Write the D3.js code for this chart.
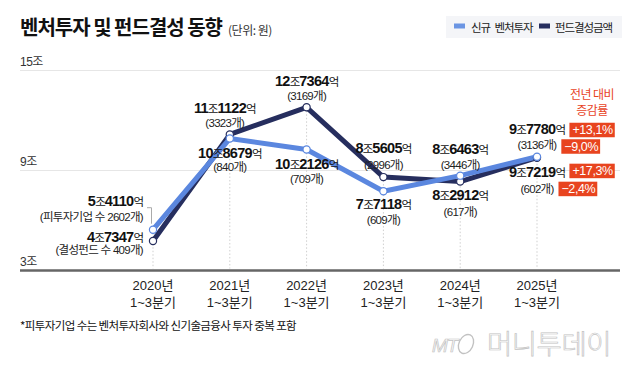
<!DOCTYPE html>
<html><head><meta charset="utf-8">
<script src="https://cdn.jsdelivr.net/npm/d3@7"></script>
<style>
html,body{margin:0;padding:0;background:#fff;}
svg{display:block;}
</style></head>
<body>
<svg id="chart" width="640" height="368"></svg>
<script>
// ---- data (values in 억원) ----
const categories = ["2020년", "2021년", "2022년", "2023년", "2024년", "2025년"];
const periodLabel = "1~3분기";
const ventureInvest = [54110, 108679, 102126, 77118, 86463, 97780];   // 신규 벤처투자
const fundRaised    = [47347, 111122, 127364, 85605, 82912, 97219];   // 펀드결성금액
const ventureCounts = ["피투자기업 수 2602개", "840개", "709개", "609개", "3446개", "3136개"];
const fundCounts    = ["결성펀드 수 409개", "3323개", "3169개", "2996개", "617개", "602개"];
const yTicks = [30000, 90000, 150000];
const yTickLabels = ["3조", "9조", "15조"];
const ventureChange = ["+13,1%", "−9,0%"];
const fundChange = ["+17,3%", "−2,4%"];
const seriesNames = ["신규 벤처투자", "펀드결성금액"];
const changeHeader = ["전년 대비", "증감률"];

// ---- layout / style ----
const FONT = "'Liberation Sans', 'Noto Sans CJK KR', sans-serif";
const KFONT = "'Noto Sans CJK KR', sans-serif";
const C_BLUE = "#5b87df", C_NAVY = "#262e5e", C_RED = "#e8441f";
const svg = d3.select("#chart");

const x = d3.scalePoint().domain(categories).range([153, 537]);
const y = d3.scaleLinear().domain([30000, 150000]).range([270, 69.5]);

// title
const title = svg.append("text").attr("x", 20).attr("y", 35)
  .attr("font-family", KFONT).attr("fill", "#111");
title.append("tspan").attr("font-size", 20).attr("font-weight", 700)
  .attr("letter-spacing", -1).text("벤처투자 및 펀드결성 동향");
title.append("tspan").attr("font-size", 12).attr("dx", 6).attr("fill", "#333")
  .attr("letter-spacing", -0.5).text("(단위: 원)");

// legend
svg.append("rect").attr("x", 446).attr("y", 16).attr("width", 176).attr("height", 22).attr("fill", "#f4f5f8");
const legendItems = [
  {name: seriesNames[0], color: "#6b95e3", sx: 454, tx: 471},
  {name: seriesNames[1], color: C_NAVY, sx: 539, tx: 555}
];
legendItems.forEach(d => {
  svg.append("rect").attr("x", d.sx).attr("y", 23.5).attr("width", 11).attr("height", 5).attr("fill", d.color);
  svg.append("text").attr("x", d.tx).attr("y", 32).attr("font-family", KFONT)
    .attr("font-size", 11.5).attr("letter-spacing", -1.1).attr("word-spacing", 3)
    .attr("fill", "#222").text(d.name);
});

// gridlines + y labels
yTicks.forEach((t, i) => {
  const yy = Math.round(y(t)) + 0.5;
  svg.append("line").attr("x1", 20).attr("x2", 620).attr("y1", yy).attr("y2", yy)
    .attr("stroke", i === 0 ? "#666" : "#e6e6e6").attr("stroke-width", i === 0 ? 2.5 : 1);
  svg.append("text").attr("x", 20).attr("y", yy - 5).attr("font-family", FONT)
    .attr("font-size", 12).attr("letter-spacing", -0.5).attr("fill", "#333").text(yTickLabels[i]);
});

// vertical dotted guides
categories.forEach((c, i) => {
  const top = Math.min(y(ventureInvest[i]), y(fundRaised[i]));
  svg.append("line").attr("x1", x(c)).attr("x2", x(c)).attr("y1", top).attr("y2", y(30000) - 1.5)
    .attr("stroke", "#cfcfcf").attr("stroke-width", 1).attr("stroke-dasharray", "1.5,2");
});

// x labels
categories.forEach(c => {
  const t = svg.append("text").attr("text-anchor", "middle").attr("font-family", FONT)
    .attr("font-size", 13).attr("fill", "#222");
  t.append("tspan").attr("x", x(c)).attr("y", 290).text(c);
  t.append("tspan").attr("x", x(c)).attr("y", 307).text(periodLabel);
});

// lines
const line = d3.line().x((d, i) => x(categories[i])).y(d => y(d));
[[fundRaised, C_NAVY], [ventureInvest, C_BLUE]].forEach(([vals, col]) => {
  svg.append("path").attr("d", line(vals)).attr("fill", "none").attr("stroke", col)
    .attr("stroke-width", 5).attr("stroke-linejoin", "round");
});
[[fundRaised, C_NAVY], [ventureInvest, C_BLUE]].forEach(([vals, col]) => {
  svg.selectAll(null).data(vals).enter().append("circle")
    .attr("cx", (d, i) => x(categories[i])).attr("cy", d => y(d)).attr("r", 3.6)
    .attr("fill", "#fff").attr("stroke", col).attr("stroke-width", 1.2);
});

// value labels
function fmt(v) {
  const jo = Math.floor(v / 10000), eok = v % 10000;
  return [String(jo), String(eok).padStart(4, "0")];
}
const ventureLayout = [
  {a: "end", dx: -10, dy1: -24, dy2: -9},
  {a: "middle", dx: 0, dy1: 19, dy2: 32},
  {a: "middle", dx: 0, dy1: 20, dy2: 34},
  {a: "middle", dx: 0, dy1: 18, dy2: 33},
  {a: "middle", dx: 0, dy1: -22, dy2: -7},
  {a: "middle", dx: 0, dy1: -23, dy2: -8}
];
const fundLayout = [
  {a: "end", dx: -10, dy1: 1, dy2: 13},
  {a: "middle", dx: -5, dy1: -21, dy2: -7},
  {a: "middle", dx: 0, dy1: -21, dy2: -7},
  {a: "middle", dx: 0, dy1: -24, dy2: -8},
  {a: "middle", dx: 0, dy1: 18, dy2: 34},
  {a: "middle", dx: 0, dy1: 19, dy2: 35}
];
const labelNodes = {venture: [], fund: []};
function drawLabels(vals, counts, layout, key) {
  vals.forEach((v, i) => {
    const L = layout[i];
    const px = x(categories[i]) + L.dx, py = y(v);
    const [jo, eok] = fmt(v);
    const t = svg.append("text").attr("x", px).attr("y", py + L.dy1).attr("text-anchor", L.a)
      .attr("font-family", FONT).attr("fill", "#111");
    t.append("tspan").attr("font-size", 14.5).attr("font-weight", 700).attr("letter-spacing", -0.7).text(jo);
    t.append("tspan").attr("font-family", KFONT).attr("font-size", 11.5).attr("letter-spacing", -1).text("조");
    t.append("tspan").attr("font-size", 14.5).attr("font-weight", 700).attr("letter-spacing", -0.7).text(eok);
    t.append("tspan").attr("font-family", KFONT).attr("font-size", 11.5).attr("letter-spacing", -1).text("억");
    const c = svg.append("text").attr("x", px).attr("y", py + L.dy2).attr("text-anchor", L.a)
      .attr("font-family", FONT).attr("font-size", 11.5).attr("letter-spacing", -0.7)
      .attr("fill", "#222").text("(" + counts[i] + ")");
    labelNodes[key].push([t, c]);
  });
}
drawLabels(ventureInvest, ventureCounts, ventureLayout, "venture");
drawLabels(fundRaised, fundCounts, fundLayout, "fund");

// bracket beside 2020 venture label
{
  const bx = x(categories[0]), by = y(ventureInvest[0]);
  svg.append("path").attr("d", `M${bx - 6},${by - 22}H${bx - 1.5}V${by - 6}`)
    .attr("fill", "none").attr("stroke", "#aaa").attr("stroke-width", 1);
}

// change boxes
const boxDy = {venture: [-11, -9.5], fund: [-13, -11]};
function drawChange(key, changes) {
  const nodes = labelNodes[key][categories.length - 1];
  changes.forEach((txt, j) => {
    const n = nodes[j].node();
    const bb = n.getBBox();
    const baseY = +nodes[j].attr("y");
    const bx = bb.x + bb.width + 4;
    const g = svg.append("g");
    const tt = g.append("text").attr("x", bx + 3).attr("y", baseY + boxDy[key][j] + 11.3)
      .attr("font-family", FONT).attr("font-size", 12.5).attr("letter-spacing", -0.4)
      .attr("fill", "#fff").text(txt);
    const tw = tt.node().getComputedTextLength();
    g.insert("rect", "text").attr("x", bx).attr("y", baseY + boxDy[key][j])
      .attr("width", tw + 5).attr("height", 14.5).attr("fill", C_RED);
  });
}
drawChange("venture", ventureChange);
drawChange("fund", fundChange);

// header for change column
changeHeader.forEach((h, i) => {
  svg.append("text").attr("x", 592).attr("y", 99 + i * 16).attr("text-anchor", "middle")
    .attr("font-family", KFONT).attr("font-size", 12).attr("letter-spacing", -0.6)
    .attr("fill", C_RED).text(h);
});

// footnote
svg.append("text").attr("x", 20).attr("y", 330).attr("font-family", KFONT)
  .attr("font-size", 11.5).attr("letter-spacing", -0.6).attr("fill", "#111")
  .text("*피투자기업 수는 벤처투자회사와 신기술금융사 투자 중복 포함");

// logo
const logo = svg.append("g").attr("fill", "#fdfdfd").attr("stroke", "#c2c2c2").attr("stroke-width", 0.7);
logo.append("text").attr("x", 432).attr("y", 352).attr("font-family", FONT).attr("font-style", "italic")
  .attr("font-size", 19).attr("letter-spacing", -1).text("MT");
logo.append("ellipse").attr("cx", 466).attr("cy", 344).attr("rx", 7).attr("ry", 10)
  .attr("transform", "rotate(25,466,344)").attr("fill", "none").attr("stroke-width", 1.4);
logo.append("text").attr("x", 487).attr("y", 354).attr("font-family", KFONT).attr("font-weight", 300)
  .attr("font-size", 27.5).attr("letter-spacing", -0.5).text("머니투데이");
</script>
</body></html>
